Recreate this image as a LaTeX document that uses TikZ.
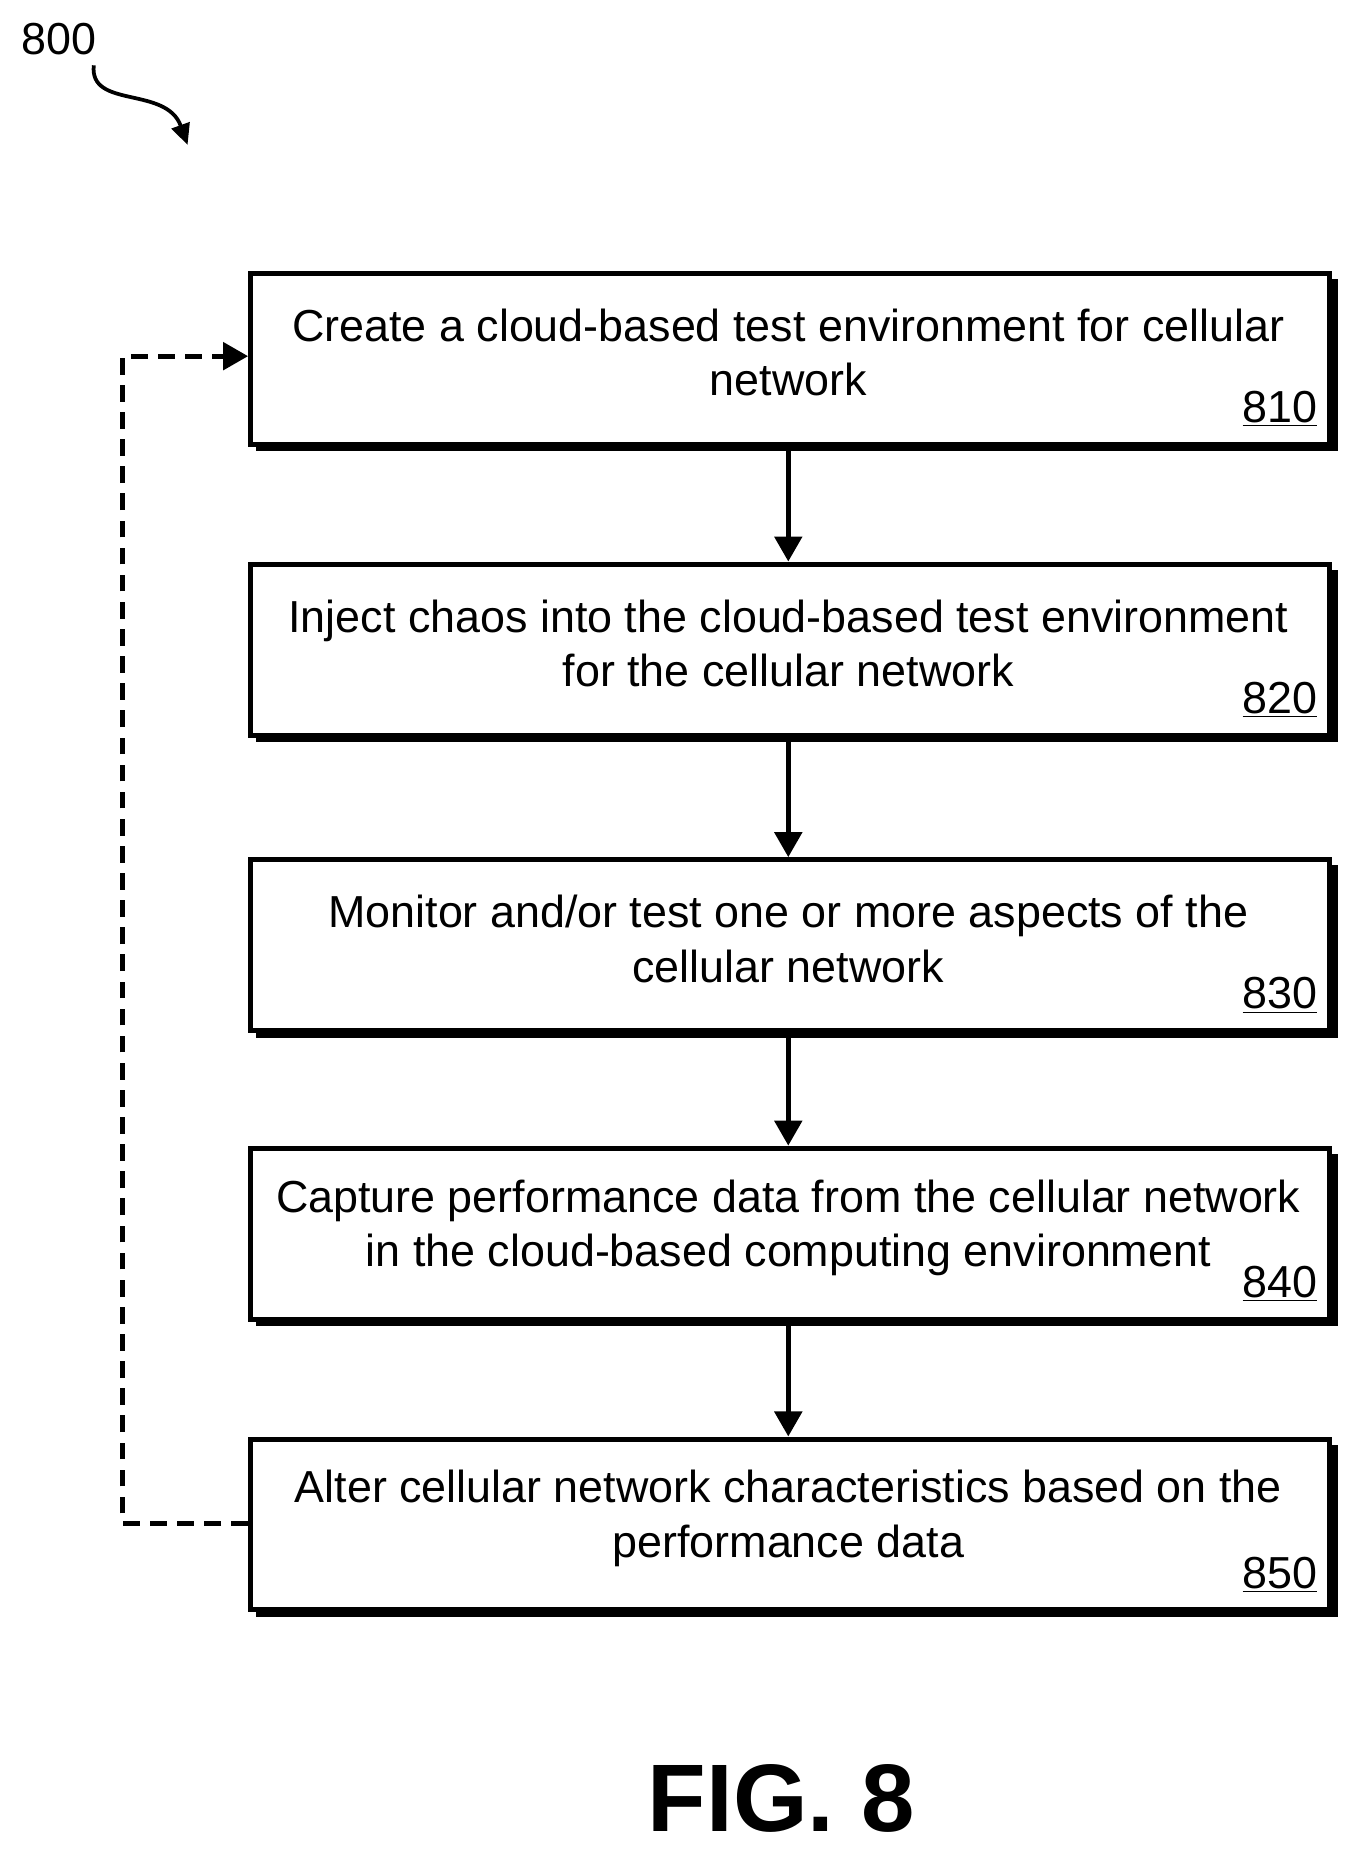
\documentclass[tikz,border=0pt]{standalone}
\usepackage{fontspec}
\setmainfont{Liberation Sans}
\usetikzlibrary{arrows.meta}
\begin{document}
\begin{tikzpicture}[x=0.02cm,y=-0.02cm,
  box/.style={draw,line width=2.4pt,fill=white,minimum width=909*0.02cm,minimum height=144*0.02cm,anchor=north west,inner sep=0pt},
  txt/.style={align=center,font=\fontsize{21.5}{26}\selectfont},
  lbl/.style={anchor=south east,font=\fontsize{21.5}{24}\selectfont,inner sep=0pt},
  arr/.style={line width=2.4pt,-{Triangle[length=12pt,width=13pt]}}]
\useasboundingbox (0,0) rectangle (1140,1560);
\node[anchor=center,font=\fontsize{21.5}{24}\selectfont] (n800) at (50,33) {800};
\coordinate (s1) at (79,55);
\coordinate (s2) at (158,122);
\draw[line width=1.8pt,-{Triangle[length=10pt,width=9pt]}] (s1) .. controls (75,92) and (140,72) .. (s2);
\foreach \i/\y/\a/\b in {1/228/{Create a cloud-based test environment for cellular}/{network},
  2/473/{Inject chaos into the cloud-based test environment}/{for the cellular network},
  3/722/{Monitor and/or test one or more aspects of the}/{cellular network},
  4/965/{Capture performance data from the cellular network}/{in the cloud-based computing environment},
  5/1210/{Alter cellular network characteristics based on the}/{performance data}}{
  \fill (216,\y+7) rectangle (1127,\y+152);
  \node[box] (b\i) at (209,\y) {};
  \node[txt] (t\i) at (664,\y+69) {\a\\\b};
  \node[lbl] (l\i) at (1110,\y+132) {\underline{8\i0}};
}
\foreach \i/\j in {1/2,2/3,3/4,4/5}{\draw[arr] (b\i.south -| t\i.center) -- (b\j.north -| t\j.center);}
\coordinate (d1) at (103,1283);
\coordinate (d2) at (103,300);
\draw[line width=2.4pt,dash pattern=on 8pt off 5pt,-{Triangle[length=12pt,width=13pt]}] (b5.west |- d1) -- (d1) -- (d2) -- (b1.west |- d2);
\node[font=\fontsize{46}{46}\bfseries\selectfont] (fig) at (658,1515) {FIG. 8};
\end{tikzpicture}
\end{document}
